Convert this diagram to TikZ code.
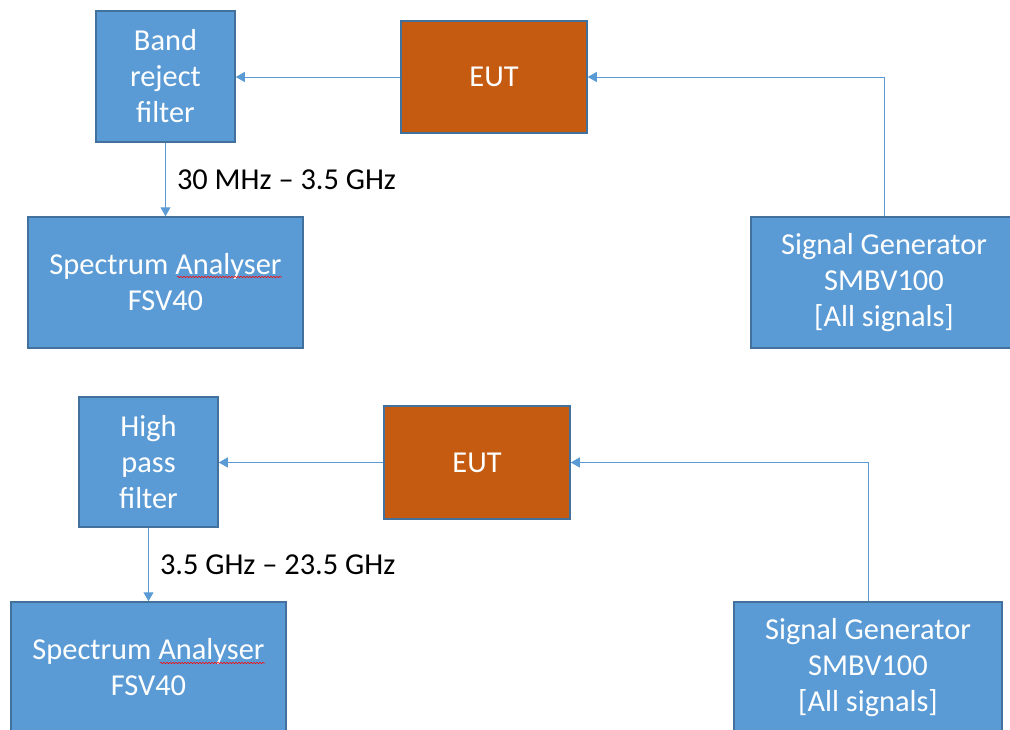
\documentclass[tikz,border=0pt]{standalone}
\usepackage{fontspec}
\setmainfont{Carlito}
\usetikzlibrary{arrows.meta,decorations.pathmorphing}
\definecolor{boxblue}{HTML}{5B9BD5}
\definecolor{edgeblue}{HTML}{41719C}
\definecolor{eutorange}{HTML}{C55A11}
\begin{document}
\begin{tikzpicture}[x=1pt,y=-1pt,
  blk/.style={draw=edgeblue,line width=1.5pt,fill=boxblue,text=white,
    font=\fontsize{30.4}{36}\selectfont,align=center,inner sep=0pt},
  eutbox/.style={blk,fill=eutorange},
  conn/.style={draw=boxblue,line width=1pt,-{Triangle[length=9pt,width=10pt]}},
  lbl/.style={font=\fontsize{30.4}{36}\selectfont,text=black,inner sep=0pt},
  squig/.style={draw=red,line width=0.5pt,decorate,decoration={snake,amplitude=0.8pt,segment length=3pt}}]
\useasboundingbox (0,0) rectangle (1010,729);
\clip (0,0) rectangle (1010,729);
% top
\node[blk,minimum width=139pt,minimum height=131pt] (brf) at (165.5,76.5) {Band\\reject\\filter};
\node[eutbox,minimum width=186pt,minimum height=112pt] (eut1) at (494,77) {EUT};
\node[blk,minimum width=275pt,minimum height=131pt] (sa1) at (165.5,282.5) {Spectrum Analyser\\FSV40};
\node[blk,minimum width=266pt,minimum height=131pt] (sg1) at (884,282.5) {Signal Generator\\SMBV100\\{[All signals]}};
\draw[conn] (sg1.north) |- (eut1.east);
\draw[conn] (eut1.west) -- (eut1.west -| brf.east);
\draw[conn] (brf.south) -- node[lbl,midway,right,xshift=11pt] (l1) {30 MHz – 3.5 GHz} (sa1.north);
\draw[squig] (177,277) -- (282,277);
% bottom
\node[blk,minimum width=139pt,minimum height=130pt] (hpf) at (148.5,462) {High\\pass\\filter};
\node[eutbox,minimum width=186pt,minimum height=113pt] (eut2) at (477,462.5) {EUT};
\node[blk,minimum width=275pt,minimum height=131pt] (sa2) at (148.5,667.5) {Spectrum Analyser\\FSV40};
\node[blk,minimum width=268pt,minimum height=131pt] (sg2) at (868,667.5) {Signal Generator\\SMBV100\\{[All signals]}};
\draw[conn] (sg2.north) |- (eut2.east);
\draw[conn] (eut2.west) -- (eut2.west -| hpf.east);
\draw[conn] (hpf.south) -- node[lbl,midway,right,xshift=11pt] (l2) {3.5 GHz – 23.5 GHz} (sa2.north);
\draw[squig] (160,663) -- (265,663);
\end{tikzpicture}
\end{document}
